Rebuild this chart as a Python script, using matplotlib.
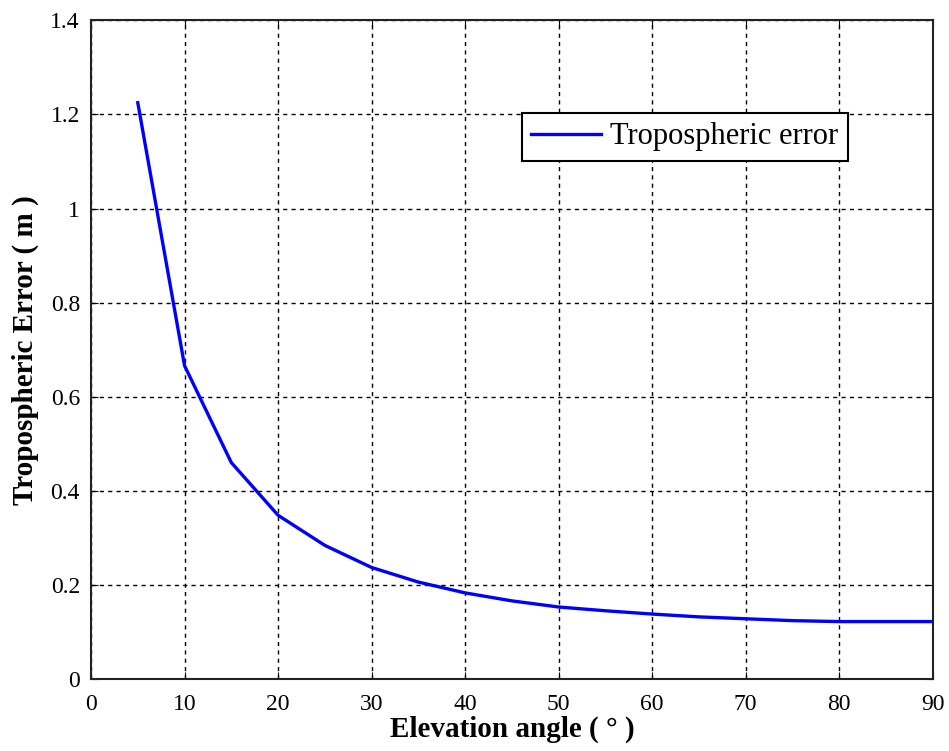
import numpy as np
import matplotlib
matplotlib.use("Agg")
from matplotlib import pyplot as plt

# elevation angle (deg) and tropospheric error (m)
elevation = [5, 10, 15, 20, 25, 30, 35, 40, 45, 50, 55, 60, 65, 70, 75, 80, 85, 90]
trop_error = [1.225, 0.666, 0.460, 0.348, 0.284, 0.237, 0.206, 0.183, 0.166,
              0.153, 0.145, 0.138, 0.132, 0.128, 0.124, 0.122, 0.122, 0.122]

x_ticks = np.arange(0, 91, 10)
y_ticks = np.arange(0, 1.41, 0.2)
y_tick_labels = ["0", "0.2", "0.4", "0.6", "0.8", "1", "1.2", "1.4"]

plt.rcParams['font.family'] = ['Liberation Serif', 'DejaVu Serif']

fig = plt.figure(figsize=(9.49, 7.51), dpi=100)
ax = fig.add_axes([0.0959, 0.0959, 0.887, 0.877])

ax.plot(elevation, trop_error, color='#0000ff', lw=2.4, label='Tropospheric error')

ax.set_xlim(0, 90)
ax.set_ylim(0, 1.4)
ax.set_xticks(x_ticks)
ax.set_yticks(y_ticks)
ax.set_yticklabels(y_tick_labels)
ax.tick_params(direction='in', top=True, right=True, labelsize=17, length=5,
               colors='black', pad=8)
ax.tick_params(axis='x', pad=11)

ax.grid(True, color='black', linestyle=(0, (3, 3)), linewidth=1.0)

for s in ax.spines.values():
    s.set_linewidth(1.5)
    s.set_color('#222222')

ax.set_xlabel('Elevation angle ( ° )', fontsize=21, fontweight='bold', labelpad=0)
ax.set_ylabel('Tropospheric Error ( m )', fontsize=21, fontweight='bold', labelpad=8)

leg = ax.legend(loc='upper right', bbox_to_anchor=(0.899, 0.859), fontsize=22,
                fancybox=False, framealpha=1, edgecolor='black',
                handlelength=2.3, borderpad=0.3, handletextpad=0.3,
                borderaxespad=0)
leg.get_frame().set_linewidth(1.5)

fig.savefig('out.png', dpi=100)
